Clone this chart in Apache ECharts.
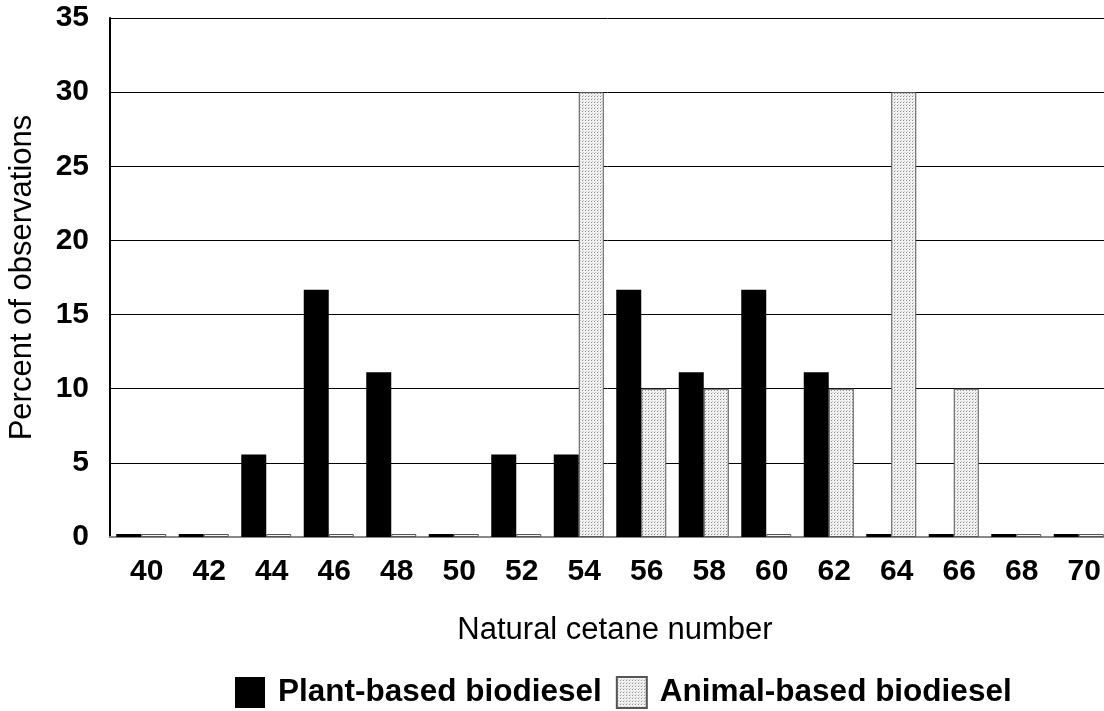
<!DOCTYPE html>
<html>
<head>
<meta charset="utf-8">
<script src="https://cdn.jsdelivr.net/npm/echarts@6/dist/echarts.min.js"></script>
<style>
  html, body { margin: 0; padding: 0; background: #ffffff; }
  #chart { width: 1104px; height: 711px; }
</style>
</head>
<body>
<div id="chart"></div>
<script>
var categories = ['40', '42', '44', '46', '48', '50', '52', '54', '56', '58', '60', '62', '64', '66', '68', '70'];
var plantData = [0, 0, 5.56, 16.67, 11.11, 0, 5.56, 5.56, 16.67, 11.11, 16.67, 11.11, 0, 0, 0, 0];
var animalData = [0, 0, 0, 0, 0, 0, 0, 30, 10, 10, 0, 10, 30, 10, 0, 0];
var seriesNames = ['Plant-based biodiesel', 'Animal-based biodiesel'];

// dotted fill for the animal bars
function dotPattern() {
    var c = document.createElement('canvas');
    c.width = 3;
    c.height = 3;
    var ctx = c.getContext('2d');
    ctx.fillStyle = '#f2f2f2';
    ctx.fillRect(0, 0, 3, 3);
    ctx.fillStyle = '#8c8c8c';
    ctx.fillRect(0, 0, 1, 1);
    ctx.fillStyle = '#c8c8c8';
    ctx.fillRect(1, 2, 1, 1);
    return c;
}

var font = "'Liberation Sans', Arial, sans-serif";
var chart = echarts.init(document.getElementById('chart'));

var option = {
    backgroundColor: '#ffffff',
    animation: false,
    textStyle: { fontFamily: font },
    grid: {
        left: 110,
        top: 18,
        width: 1000,
        height: 519,
        containLabel: false,
        outerBoundsMode: 'none'
    },
    legend: {
        left: 230,
        top: 671,
        icon: 'rect',
        itemWidth: 30,
        itemHeight: 31,
        itemGap: 14,
        textStyle: {
            fontSize: 31.5,
            fontWeight: 'bold',
            color: '#000',
            padding: [0, 0, 0, 8]
        },
        data: seriesNames
    },
    xAxis: {
        type: 'category',
        data: categories,
        name: 'Natural cetane number',
        nameLocation: 'middle',
        nameGap: 78,
        nameTextStyle: { fontSize: 31, color: '#000', padding: [0, 0, 0, 10] },
        axisLine: { lineStyle: { color: '#888', width: 2 } },
        axisTick: { show: false },
        axisLabel: {
            fontSize: 30,
            fontWeight: 'bold',
            color: '#000',
            margin: 20,
            padding: [0, 0, 0, 11]
        }
    },
    yAxis: {
        type: 'value',
        min: 0,
        max: 35,
        interval: 5,
        name: 'Percent of observations',
        nameLocation: 'middle',
        nameGap: 56,
        nameTextStyle: { fontSize: 31, color: '#000', padding: [0, 0, 16, 0] },
        axisLine: { show: true, lineStyle: { color: '#000', width: 2 } },
        axisTick: { show: false },
        axisLabel: {
            fontSize: 30,
            fontWeight: 'bold',
            color: '#000',
            margin: 21
        },
        splitLine: { lineStyle: { color: '#000', width: 1 } }
    },
    series: [
        {
            name: seriesNames[0],
            type: 'bar',
            data: plantData,
            barWidth: 25,
            barGap: '0%',
            barMinHeight: 3,
            itemStyle: { color: '#000' }
        },
        {
            name: seriesNames[1],
            type: 'bar',
            data: animalData,
            barWidth: 25,
            barGap: '0%',
            barMinHeight: 3,
            itemStyle: {
                color: { image: dotPattern(), repeat: 'repeat' },
                borderColor: '#555',
                borderWidth: 1
            }
        }
    ]
};
chart.setOption(option);

window.onresize = function () {
    chart.resize();
};
</script>
</body>
</html>
